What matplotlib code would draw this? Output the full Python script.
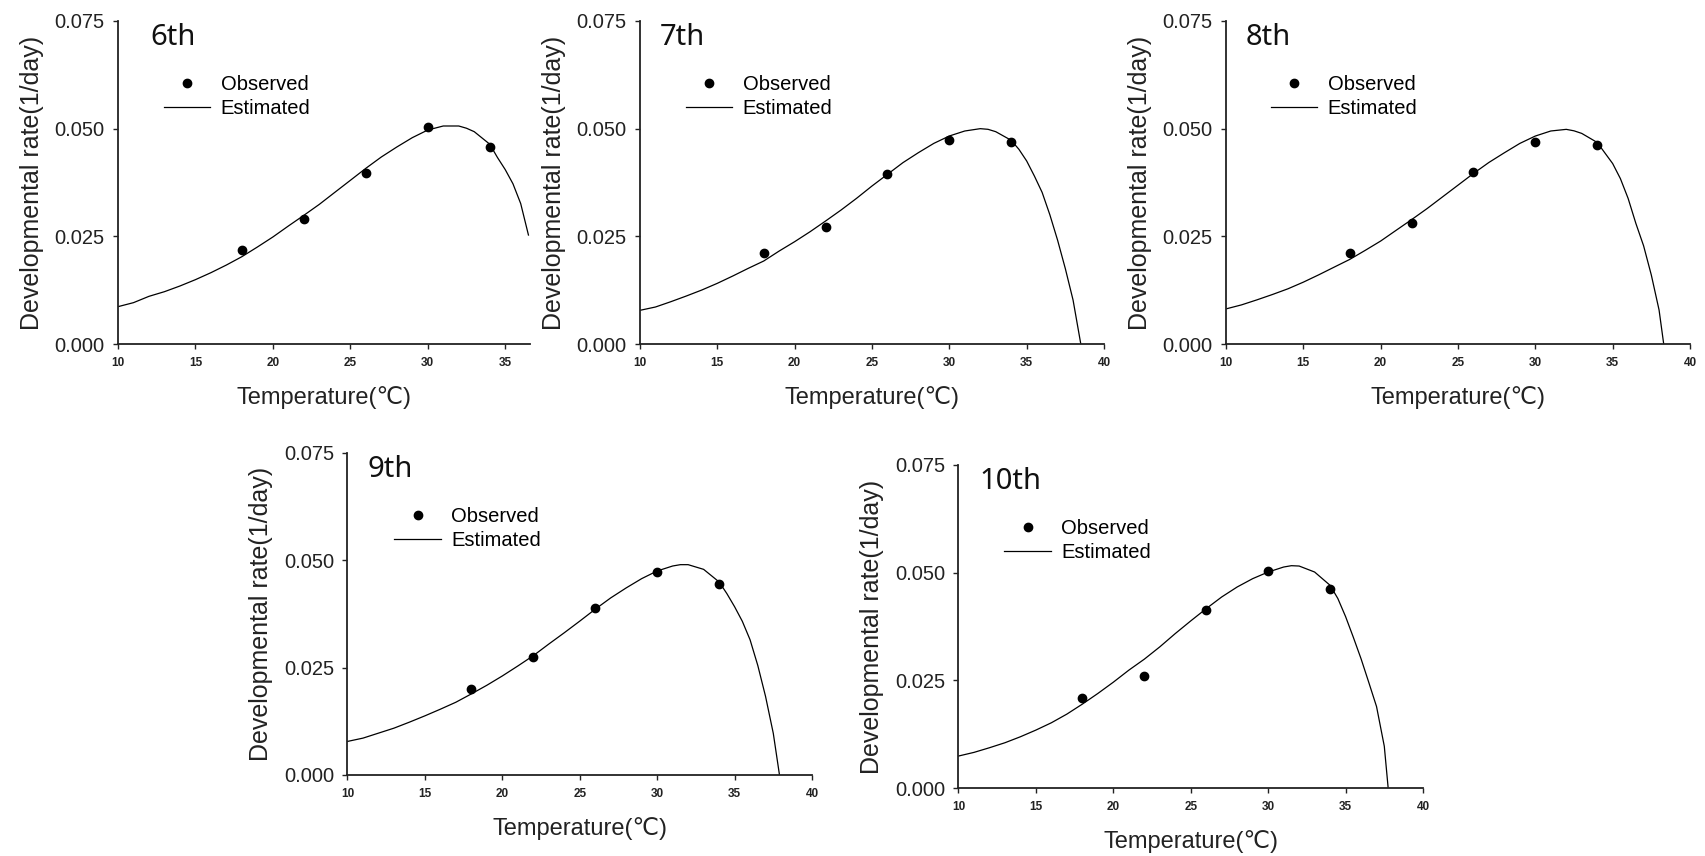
import matplotlib.pyplot as plt
import matplotlib.ticker as mticker

# ---- data ----
instars = ['6th', '7th', '8th', '9th', '10th']
obs_temp = [18, 22, 26, 30, 34]

obs_6th = [0.0218, 0.0290, 0.0398, 0.0504, 0.0457]
obs_7th = [0.0212, 0.0272, 0.0394, 0.0473, 0.0470]
obs_8th = [0.0211, 0.0280, 0.0400, 0.0470, 0.0462]
obs_9th = [0.0200, 0.0276, 0.0388, 0.0473, 0.0444]
obs_10th = [0.0208, 0.0260, 0.0413, 0.0505, 0.0461]

est_t_6th = [10, 11, 12, 13, 14, 15, 16, 17, 18, 19, 20, 21, 22, 23, 24, 25, 26, 27, 28, 29, 30,
             31, 32, 32.5, 33, 34, 34.5, 35, 35.5, 36, 36.5]
est_r_6th = [0.00867, 0.0096, 0.01107, 0.01215, 0.01347, 0.01494, 0.01656, 0.01834, 0.02028, 0.02252,
             0.02485, 0.0274, 0.02988, 0.03243, 0.03522, 0.0380, 0.04079, 0.04342, 0.04574, 0.04791,
             0.04969, 0.05062, 0.05062, 0.0501, 0.0493, 0.0464, 0.0433, 0.0405, 0.0372, 0.0326, 0.0253]

est_t_7th = [10, 11, 12, 13, 14, 15, 16, 17, 18, 19, 20, 21, 22, 23, 24, 25, 26, 27, 28, 29, 30,
             31, 32, 32.5, 33, 34, 34.5, 35, 35.5, 36, 36.5, 37, 37.5, 38, 38.5]
est_r_7th = [0.00782, 0.00859, 0.00983, 0.01115, 0.01254, 0.01409, 0.01579, 0.01757, 0.01927, 0.02159,
             0.02376, 0.02608, 0.02856, 0.03111, 0.03382, 0.03669, 0.0394, 0.04211, 0.04443, 0.04659,
             0.0483, 0.04946, 0.0500, 0.04985, 0.0493, 0.0473, 0.0452, 0.0425, 0.0390, 0.0352, 0.0300,
             0.0241, 0.0175, 0.0102, 0.0]

est_t_8th = [10, 11, 12, 13, 14, 15, 16, 17, 18, 19, 20, 21, 22, 23, 24, 25, 26, 27, 28, 29, 30,
             31, 32, 32.5, 33, 34, 35, 35.5, 36, 36.5, 37, 37.5, 38, 38.3]
est_r_8th = [0.00815, 0.00908, 0.01025, 0.01149, 0.01281, 0.01436, 0.01607, 0.01786, 0.01964, 0.02174,
             0.02391, 0.0264, 0.02888, 0.03144, 0.03416, 0.03688, 0.0396, 0.04216, 0.04441, 0.04658,
             0.04829, 0.04946, 0.04984, 0.0495, 0.0489, 0.0468, 0.0419, 0.0384, 0.0338, 0.0280,
             0.0228, 0.0160, 0.0079, 0.0]

est_t_9th = [10, 11, 12, 13, 14, 15, 16, 17, 18, 19, 20, 21, 22, 23, 24, 25, 26, 27, 28, 29, 30,
             31, 31.5, 32, 33, 34, 34.5, 35, 35.5, 36, 36.5, 37, 37.5, 37.9]
est_r_9th = [0.00782, 0.00859, 0.00975, 0.01091, 0.01231, 0.01378, 0.01533, 0.01695, 0.01889, 0.0209,
             0.02307, 0.02539, 0.02779, 0.0305, 0.03313, 0.03584, 0.03862, 0.04125, 0.04358, 0.04574,
             0.04752, 0.04868, 0.04899, 0.04899, 0.0479, 0.04497, 0.04226, 0.0392, 0.0358, 0.0315,
             0.0255, 0.0183, 0.0097, 0.0]

est_t_10th = [10, 11, 12, 13, 14, 15, 16, 17, 18, 19, 20, 21, 22, 23, 24, 25, 26, 27, 28, 29, 30,
              31, 31.5, 32, 33, 34, 34.5, 35, 35.5, 36, 36.5, 37, 37.5, 37.75]
est_r_10th = [0.00742, 0.00827, 0.00935, 0.01051, 0.0119, 0.01345, 0.01515, 0.01716, 0.01948, 0.02195,
              0.02457, 0.02736, 0.02991, 0.03277, 0.03586, 0.0388, 0.04165, 0.04436, 0.04668, 0.04861,
              0.05015, 0.05131, 0.05162, 0.05154, 0.05015, 0.04706, 0.0440, 0.0398, 0.0350, 0.0300,
              0.0245, 0.0189, 0.0097, 0.0]

y_ticks = [0.000, 0.025, 0.050, 0.075]
x_ticks = [10, 15, 20, 25, 30, 35, 40]

observed = [obs_6th, obs_7th, obs_8th, obs_9th, obs_10th]
est_t = [est_t_6th, est_t_7th, est_t_8th, est_t_9th, est_t_10th]
est_r = [est_r_6th, est_r_7th, est_r_8th, est_r_9th, est_r_10th]
x_max = [36.6, 40, 40, 40, 40]

# ---- layout ----
W, H = 1706, 856
# axes boxes in pixels: left, top, right, bottom
boxes = [(118, 21, 530, 344), (640, 21, 1104, 344), (1226, 21, 1690, 344),
         (347.5, 453, 812, 775), (958.5, 465, 1423, 788)]
title_x = [0.078, 0.043, 0.042, 0.044, 0.045]
legend_x = [0.111, 0.099, 0.097, 0.101, 0.099]

plt.rcParams['font.family'] = ['Liberation Sans', 'DejaVu Sans']

fig = plt.figure(figsize=(W / 100, H / 100), dpi=100)

for i, name in enumerate(instars):
    l, t, r, b = boxes[i]
    ax = fig.add_axes([l / W, (H - b) / H, (r - l) / W, (b - t) / H])

    ax.plot(obs_temp, observed[i], 'o', color='black', markersize=6, label='Observed', zorder=3)
    ax.plot(est_t[i], est_r[i], '-', color='black', linewidth=0.9, label='Estimated')

    ax.set_xlim(10, x_max[i])
    ax.set_ylim(0, 0.075)
    ax.set_xticks([v for v in x_ticks if v <= x_max[i]])
    ax.set_yticks(y_ticks)
    ax.yaxis.set_major_formatter(mticker.FormatStrFormatter('%.3f'))

    for side in ['top', 'right']:
        ax.spines[side].set_visible(False)
    for side in ['left', 'bottom']:
        ax.spines[side].set_linewidth(1.3)
        ax.spines[side].set_color('#222222')

    ax.tick_params(axis='both', direction='out', length=3.5, width=1.0, pad=6, colors='#222222')
    ax.tick_params(axis='y', labelsize=14.5)
    ax.tick_params(axis='x', labelsize=8.5)
    for lab in ax.get_xticklabels():
        lab.set_fontweight('bold')

    ax.set_xlabel('Temperature(℃)', fontsize=17, labelpad=12, color='#222222')
    ax.set_ylabel('Developmental rate(1/day)', fontsize=18, labelpad=8, color='#222222')

    ax.text(title_x[i], 0.95, name, transform=ax.transAxes, fontsize=21,
            family=['Noto Sans', 'DejaVu Sans'], va='center', ha='left', color='#111111')

    ax.legend(loc='center left', bbox_to_anchor=(legend_x[i], 0.766), frameon=False,
              fontsize=14.5, handlelength=2.3, handletextpad=0.52, labelspacing=0.22,
              borderpad=0, borderaxespad=0)

fig.savefig('out.png', dpi=100)
